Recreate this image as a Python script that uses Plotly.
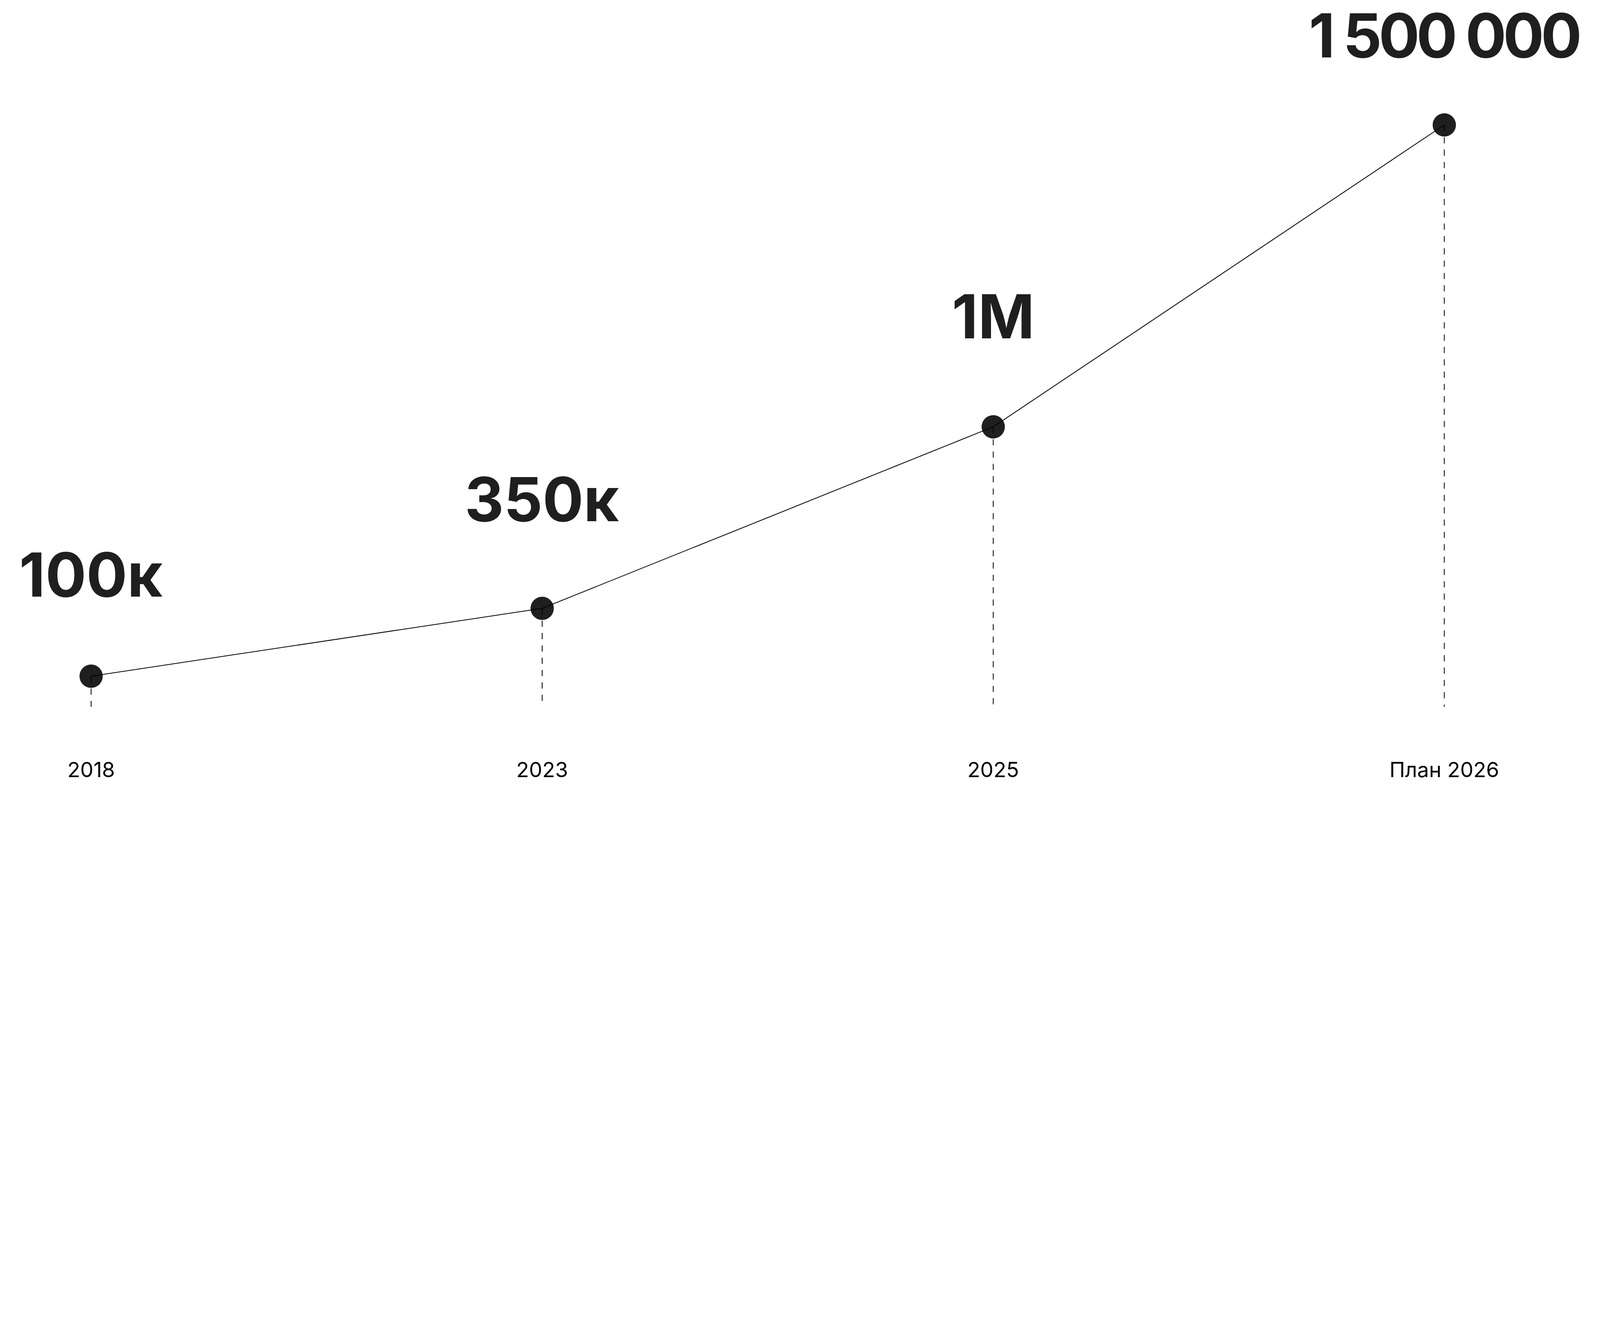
import plotly.graph_objects as go

# ---- data ----
categories = ["2018", "2023", "2025", "План 2026"]
value_labels = ["100к", "350к", "1М", "1 500 000"]
# drawn height of each point (visual level, top point = 100; the chart is not to scale)
visual_levels = [5.26, 16.92, 48.12, 100.0]

# ---- styles (in reference pixels) ----
W, H = 7008, 3427
INK = "#1f1f1f"
label_lift_px = [347, 381, 386, 295]  # baseline of value label above the point
label_tracking_px = [0, 0, 0, -14]    # letter spacing of the value labels
BIG = 266
SMALL = 92
x_idx = list(range(len(categories)))

fig = go.Figure()

# markers first, so line/dashes show on top like in reference
fig.add_trace(go.Scatter(
    x=x_idx, y=visual_levels, mode="markers",
    marker=dict(size=102, color=INK, line=dict(width=0)),
    hoverinfo="skip", showlegend=False,
))

# dashed drop lines from each point down to the base
for xi, lv in zip(x_idx, visual_levels):
    fig.add_trace(go.Scatter(
        x=[xi, xi], y=[lv, 0], mode="lines",
        line=dict(color="#000000", width=3.5, dash="27px,27px"),
        hoverinfo="skip", showlegend=False,
    ))

# connecting line
fig.add_trace(go.Scatter(
    x=x_idx, y=visual_levels, mode="lines",
    line=dict(color="#000000", width=3.5),
    hoverinfo="skip", showlegend=False,
))

annotations = []
for xi, lv, lab, lift, trk in zip(x_idx, visual_levels, value_labels,
                                  label_lift_px, label_tracking_px):
    txt = lab if trk == 0 else '<span style="letter-spacing:%dpx">%s</span>' % (trk, lab)
    annotations.append(dict(
        x=xi, y=lv, xref="x", yref="y", text=txt, showarrow=False,
        xanchor="center", yanchor="bottom", yshift=lift - int(0.242 * BIG) - 1,
        font=dict(family="Inter", size=BIG, color=INK, weight=700),
    ))
for xi, cat in zip(x_idx, categories):
    annotations.append(dict(
        x=xi, y=0, xref="x", yref="paper", text=cat, showarrow=False,
        xanchor="center", yanchor="bottom", yshift=0,
        font=dict(family="Inter", size=SMALL, color="#000000"),
    ))

fig.update_layout(
    width=W, height=H,
    margin=dict(l=0, r=0, t=0, b=0),
    paper_bgcolor="white", plot_bgcolor="white",
    xaxis=dict(range=[-0.2020, 3.3452], visible=False, fixedrange=True),
    yaxis=dict(range=[-13.03, 121.47], visible=False, fixedrange=True),
    annotations=annotations,
    showlegend=False,
)

# fit the 7008x3427 layout to the browser viewport whatever its CSS pixel ratio
post = (
    "document.body.style.margin='0';document.body.style.overflow='hidden';"
    "document.documentElement.style.overflow='hidden';"
    "var gd=document.getElementById('{plot_id}');"
    "var s=window.innerWidth/%d;"
    "var p=gd.parentElement;"
    "p.style.width=window.innerWidth+'px';p.style.height=window.innerHeight+'px';"
    "p.style.overflow='hidden';"
    "gd.style.transformOrigin='0 0';gd.style.transform='scale('+s+')';" % W
)
fig.write_html("out.html", post_script=post, config={"displayModeBar": False})
